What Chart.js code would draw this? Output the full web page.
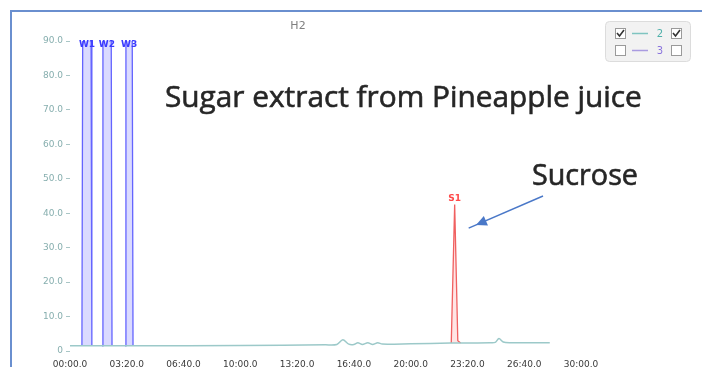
<!DOCTYPE html>
<html>
<head>
<meta charset="utf-8">
<title>H2</title>
<script src="https://cdn.jsdelivr.net/npm/chart.js@4.4.1/dist/chart.umd.min.js"></script>
<style>
  html, body { margin: 0; padding: 0; background: #ffffff; }
  #chart { display: block; filter: blur(0.5px); }
</style>
</head>
<body>
<canvas id="chart" width="702" height="367"></canvas>
<script>
"use strict";

/* ─── Data (time in seconds, response in mV) ───────────────── */

/* Detector baseline between the peaks */
const BASE_T = [0, 40, 230, 600, 900, 940, 961, 982, 1000, 1014, 1030, 1049, 1066, 1084, 1100, 1200, 1340, 1390, 1480, 1498, 1511, 1526, 1550, 1690];
const BASE_V = [1.5, 1.5, 1.5, 1.6, 1.8, 1.9, 3.3, 2.0, 1.9, 2.4, 1.9, 2.4, 1.9, 2.4, 2.0, 2.1, 2.3, 2.3, 2.4, 2.5, 3.6, 2.6, 2.4, 2.4];

/* Three early peaks, off scale */
const PEAK1_T = [42, 45, 74, 77];
const PEAK1_V = [1.5, 99, 99, 1.5];
const PEAK2_T = [113, 116, 145, 148];
const PEAK2_V = [1.5, 99, 99, 1.5];
const PEAK3_T = [194, 197, 219, 222];
const PEAK3_V = [1.5, 99, 99, 1.5];

/* Sucrose peak */
const SUCROSE_T = [1343, 1355, 1366, 1376];
const SUCROSE_V = [2.3, 42.5, 3.0, 2.3];

/* Peak names written above each apex */
const PEAK_NAMES = ["W1", "W2", "W3", "S1"];
const PEAK_NAME_T = [60, 130, 208, 1355];

/* Axis ticks */
const Y_TICKS = [0, 10, 20, 30, 40, 50, 60, 70, 80, 90];
const X_MAX = 1800;
const X_STEP = 200;

/* ─── Helpers ───────────────────────────────────────────────── */

function pad(n) {
  return String(n).padStart(2, "0");
}

/* 200 => "03:20.0" */
function formatTime(sec) {
  const m = Math.floor(sec / 60);
  const s = sec % 60;
  return pad(m) + ":" + pad(s) + ".0";
}

function toPoints(ts, vs) {
  return ts.map(function (t, i) {
    return { x: t, y: vs[i] };
  });
}

/* A peak outline filled down to its own baseline level */
function peakSet(ts, vs, line, fill) {
  return {
    data: toPoints(ts, vs),
    borderColor: line,
    backgroundColor: fill,
    borderWidth: 1.3,
    fill: { value: vs[0] },
    pointRadius: 0,
    tension: 0,
    clip: 0,
  };
}

/* Draws text scaled so that it spans the given width */
function fitText(ctx, text, left, baseline, width, color) {
  ctx.font = "100px 'Open Sans', sans-serif";
  const size = 100 * width / ctx.measureText(text).width;
  ctx.font = size.toFixed(2) + "px 'Open Sans', sans-serif";
  ctx.fillStyle = color;
  ctx.textAlign = "left";
  ctx.textBaseline = "alphabetic";
  ctx.fillText(text, left, baseline);
  /* thin outline gives the heavier stroke of the heading font */
  ctx.strokeStyle = color;
  ctx.lineWidth = 0.6;
  ctx.strokeText(text, left, baseline);
}

/* ─── Plugins ───────────────────────────────────────────────── */

/* White page with the blue window frame */
const framePlugin = {
  id: "frame",
  beforeDraw: function (chart) {
    const ctx = chart.ctx;
    ctx.save();
    ctx.fillStyle = "#ffffff";
    ctx.fillRect(0, 0, chart.width, chart.height);
    ctx.strokeStyle = "#6a8fcf";
    ctx.lineWidth = 2;
    ctx.beginPath();
    ctx.moveTo(11, chart.height);
    ctx.lineTo(11, 11);
    ctx.lineTo(chart.width, 11);
    ctx.stroke();

    ctx.fillStyle = "#808080";
    ctx.font = "11px 'DejaVu Sans', sans-serif";
    ctx.textAlign = "center";
    ctx.textBaseline = "middle";
    ctx.fillText("H2", 298, 26);
    ctx.restore();
  },
};

/* Trace selector box in the top right corner */
function drawCheckbox(ctx, x, y, checked) {
  ctx.fillStyle = "#ffffff";
  ctx.strokeStyle = "#9a9a9a";
  ctx.lineWidth = 1;
  ctx.fillRect(x, y, 10, 10);
  ctx.strokeRect(x + 0.5, y + 0.5, 10, 10);
  if (checked) {
    ctx.strokeStyle = "#333333";
    ctx.lineWidth = 1.6;
    ctx.beginPath();
    ctx.moveTo(x + 2, y + 5);
    ctx.lineTo(x + 4.5, y + 8);
    ctx.lineTo(x + 9, y + 2);
    ctx.stroke();
  }
}

const selectorPlugin = {
  id: "selector",
  afterDraw: function (chart) {
    const ctx = chart.ctx;
    ctx.save();
    ctx.fillStyle = "#f2f2f2";
    ctx.strokeStyle = "#dcdcdc";
    ctx.lineWidth = 1;
    ctx.beginPath();
    ctx.roundRect(605.5, 21.5, 85, 40, 4);
    ctx.fill();
    ctx.stroke();

    drawCheckbox(ctx, 615, 28, true);
    drawCheckbox(ctx, 671, 28, true);
    drawCheckbox(ctx, 615, 45, false);
    drawCheckbox(ctx, 671, 45, false);

    ctx.lineWidth = 1.5;
    ctx.strokeStyle = "#7fc4c0";
    ctx.beginPath();
    ctx.moveTo(632, 33.5);
    ctx.lineTo(648, 33.5);
    ctx.stroke();
    ctx.strokeStyle = "#a99be0";
    ctx.beginPath();
    ctx.moveTo(632, 50.5);
    ctx.lineTo(648, 50.5);
    ctx.stroke();

    ctx.font = "10px 'DejaVu Sans', sans-serif";
    ctx.textAlign = "center";
    ctx.textBaseline = "middle";
    ctx.fillStyle = "#4fb0aa";
    ctx.fillText("2", 660, 34);
    ctx.fillStyle = "#8a73dd";
    ctx.fillText("3", 660, 51);
    ctx.restore();
  },
};

/* Peak names, heading text and the sucrose arrow */
const notesPlugin = {
  id: "notes",
  afterDraw: function (chart) {
    const ctx = chart.ctx;
    const xs = chart.scales.x;
    const ys = chart.scales.y;
    const area = chart.chartArea;
    ctx.save();

    ctx.font = "bold 9px 'DejaVu Sans', sans-serif";
    ctx.textAlign = "center";
    ctx.textBaseline = "middle";
    PEAK_NAMES.forEach(function (name, i) {
      const px = xs.getPixelForValue(PEAK_NAME_T[i]);
      if (name === "S1") {
        ctx.fillStyle = "#ff4a4a";
        ctx.fillText(name, px, ys.getPixelForValue(SUCROSE_V[1]) - 6);
      } else {
        ctx.fillStyle = "#3b3bff";
        ctx.fillText(name, px, area.top + 4);
      }
    });

    fitText(ctx, "Sugar extract from Pineapple juice", 165, 107, 477, "#262626");
    fitText(ctx, "Sucrose", 532, 185, 106, "#262626");

    /* Arrow pointing at the sucrose peak */
    const x1 = 543, y1 = 196, x2 = 476, y2 = 225;
    const ang = Math.atan2(y2 - y1, x2 - x1);
    ctx.strokeStyle = "#4a78c8";
    ctx.fillStyle = "#4a78c8";
    ctx.lineWidth = 1.5;
    ctx.beginPath();
    ctx.moveTo(x1, y1);
    ctx.lineTo(x2 + 8 * Math.cos(ang), y2 + 8 * Math.sin(ang));
    ctx.stroke();
    ctx.beginPath();
    ctx.moveTo(x2, y2);
    ctx.lineTo(x2 - 12 * Math.cos(ang - 0.45), y2 - 12 * Math.sin(ang - 0.45));
    ctx.lineTo(x2 - 12 * Math.cos(ang + 0.45), y2 - 12 * Math.sin(ang + 0.45));
    ctx.closePath();
    ctx.fill();

    ctx.restore();
  },
};

/* ─── Chart ─────────────────────────────────────────────────── */

const blueLine = "#6464ff";
const blueFill = "rgba(150, 150, 255, 0.35)";

new Chart(document.getElementById("chart"), {
  type: "line",
  data: {
    datasets: [
      {
        data: toPoints(BASE_T, BASE_V),
        borderColor: "#9cc9c9",
        borderWidth: 1.5,
        pointRadius: 0,
        tension: 0.3,
        fill: false,
      },
      peakSet(PEAK1_T, PEAK1_V, blueLine, blueFill),
      peakSet(PEAK2_T, PEAK2_V, blueLine, blueFill),
      peakSet(PEAK3_T, PEAK3_V, blueLine, blueFill),
      peakSet(SUCROSE_T, SUCROSE_V, "#f06060", "rgba(255, 150, 150, 0.25)"),
    ],
  },
  options: {
    responsive: false,
    animation: false,
    layout: { padding: { left: 0, top: 41, right: 121, bottom: 0 } },
    plugins: {
      legend: { display: false },
      tooltip: { enabled: false },
    },
    scales: {
      x: {
        type: "linear",
        min: 0,
        max: X_MAX,
        afterBuildTicks: function (scale) {
          const ticks = [];
          for (let t = 0; t <= X_MAX; t += X_STEP) ticks.push({ value: t });
          scale.ticks = ticks;
        },
        afterFit: function (scale) {
          scale.height = 16;
        },
        grid: { display: false },
        border: { display: false },
        ticks: {
          color: "#3a3a3a",
          font: { size: 9, family: "'DejaVu Sans', sans-serif" },
          padding: 0,
          maxRotation: 0,
          autoSkip: false,
          callback: function (v) {
            return formatTime(v);
          },
        },
      },
      y: {
        min: 0,
        max: 90,
        afterBuildTicks: function (scale) {
          scale.ticks = Y_TICKS.map(function (v) {
            return { value: v };
          });
        },
        afterFit: function (scale) {
          scale.width = 70;
        },
        grid: {
          drawOnChartArea: false,
          tickLength: 4,
          color: "#a9c6c6",
        },
        border: { display: false },
        ticks: {
          color: "#86aeae",
          font: { size: 9, family: "'DejaVu Sans', sans-serif" },
          padding: 3,
          callback: function (v) {
            return v === 0 ? "0" : v.toFixed(1);
          },
        },
      },
    },
  },
  plugins: [framePlugin, selectorPlugin, notesPlugin],
});
</script>
</body>
</html>
